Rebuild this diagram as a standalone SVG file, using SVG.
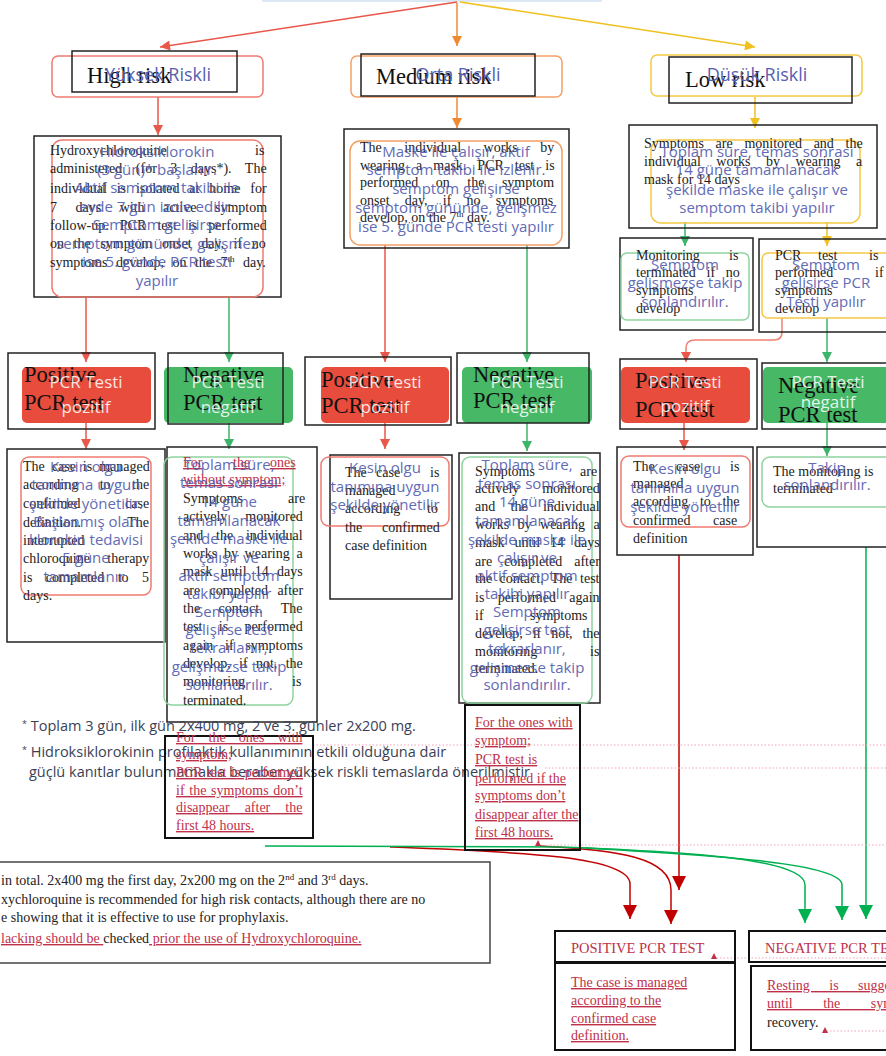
<svg xmlns="http://www.w3.org/2000/svg" width="886" height="1056" viewBox="0 0 886 1056">
<style>
.en{font-family:"Liberation Serif","Times New Roman",serif;font-size:14px;fill:#222}
.enL{font-family:"Liberation Serif","Times New Roman",serif;font-size:22.5px;fill:#111}
.tr{font-family:"Open Sans","Noto Sans",sans-serif;font-size:15px;fill:#5560b0;text-anchor:middle;opacity:.92}
.trH{font-family:"Open Sans","Noto Sans",sans-serif;font-size:18px;fill:#5560b0;text-anchor:middle}
.trw{font-family:"Open Sans","Noto Sans",sans-serif;font-size:17px;fill:#fff;text-anchor:middle;opacity:.85}
.note{font-family:"Open Sans","Noto Sans",sans-serif;font-size:14.5px;fill:#3a3f55}
.bx{fill:none;stroke:#222;stroke-width:1.5}
.bx2{fill:none;stroke:#111;stroke-width:2}
.rr{fill:none;stroke:#f07a70;stroke-width:1.5}
.ro{fill:none;stroke:#f2a066;stroke-width:1.5}
.ry{fill:none;stroke:#f5c842;stroke-width:1.5}
.rg{fill:none;stroke:#8fd3a0;stroke-width:1.5}
.fr{fill:#e74c3c}
.fg{fill:#46b866}
.red{font-family:"Liberation Serif","Times New Roman",serif;font-size:14px;fill:#c0304a;text-decoration:underline}
.redp{font-family:"Liberation Serif","Times New Roman",serif;font-size:14.5px;fill:#c0304a}
.c{fill:none;stroke-width:1.5}
.dot{fill:none;stroke:#f2a3b3;stroke-width:1;stroke-dasharray:1.5 2}
.sup{font-size:9px}
</style>
<defs>
<marker id="mr" viewBox="0 0 10 10" refX="10" refY="5" markerWidth="11" markerHeight="10" markerUnits="userSpaceOnUse" orient="auto"><path d="M0,0 L10,5 L0,10 z" fill="#e8574a"/></marker>
<marker id="mo" viewBox="0 0 10 10" refX="10" refY="5" markerWidth="11" markerHeight="10" markerUnits="userSpaceOnUse" orient="auto"><path d="M0,0 L10,5 L0,10 z" fill="#f08a30"/></marker>
<marker id="my" viewBox="0 0 10 10" refX="10" refY="5" markerWidth="11" markerHeight="10" markerUnits="userSpaceOnUse" orient="auto"><path d="M0,0 L10,5 L0,10 z" fill="#f0c020"/></marker>
<marker id="mg" viewBox="0 0 10 10" refX="10" refY="5" markerWidth="11" markerHeight="10" markerUnits="userSpaceOnUse" orient="auto"><path d="M0,0 L10,5 L0,10 z" fill="#3cb56a"/></marker>
<marker id="mdr" viewBox="0 0 10 10" refX="10" refY="5" markerWidth="14" markerHeight="14" markerUnits="userSpaceOnUse" orient="auto"><path d="M0,0 L10,5 L0,10 z" fill="#c00000"/></marker>
<marker id="mdg" viewBox="0 0 10 10" refX="10" refY="5" markerWidth="14" markerHeight="14" markerUnits="userSpaceOnUse" orient="auto"><path d="M0,0 L10,5 L0,10 z" fill="#00b050"/></marker>
</defs>
<rect width="886" height="1056" fill="#fff"/>
<rect x="262" y="-2" width="340" height="4" fill="#dde8f5"/>

<g id="connectors">
<path class="c" stroke="#e8574a" d="M457,2 L160,47" marker-end="url(#mr)"/>
<path class="c" stroke="#f08a30" d="M457,3 V46" marker-end="url(#mo)"/>
<path class="c" stroke="#f0c020" d="M460,2 L755,47" marker-end="url(#my)"/>
<path class="c" stroke="#e8574a" d="M158,97 V135" marker-end="url(#mr)"/>
<path class="c" stroke="#f08a30" d="M457,97 V128" marker-end="url(#mo)"/>
<path class="c" stroke="#f0c020" d="M755,97 V128" marker-end="url(#my)"/>
<path class="c" stroke="#e8574a" d="M86,297 V362" marker-end="url(#mr)"/>
<path class="c" stroke="#3cb56a" d="M229,297 V362" marker-end="url(#mg)"/>
<path class="c" stroke="#e8574a" d="M385,245 V362" marker-end="url(#mr)"/>
<path class="c" stroke="#3cb56a" d="M527,245 V362" marker-end="url(#mg)"/>
<path class="c" stroke="#3cb56a" d="M685,222 V246" marker-end="url(#mg)"/>
<path class="c" stroke="#f0c020" d="M827,222 V246" marker-end="url(#my)"/>
<path class="c" stroke="#f08070" d="M782,318 V332 Q782,340 774,340 H695 Q686,340 686,348 V362" marker-end="url(#mr)"/>
<path class="c" stroke="#3cb56a" d="M827,318 V362" marker-end="url(#mg)"/>
<path class="c" stroke="#e8574a" d="M86,423 V449" marker-end="url(#mr)"/>
<path class="c" stroke="#3cb56a" d="M229,423 V449" marker-end="url(#mg)"/>
<path class="c" stroke="#e8574a" d="M385,423 V449" marker-end="url(#mr)"/>
<path class="c" stroke="#3cb56a" d="M527,423 V451" marker-end="url(#mg)"/>
<path class="c" stroke="#e8574a" d="M684,423 V450" marker-end="url(#mr)"/>
<path class="c" stroke="#3cb56a" d="M827,423 V456" marker-end="url(#mg)"/>
<path class="c" stroke="#c00000" d="M679,555 V890" marker-end="url(#mdr)"/>
<path class="c" stroke="#00b050" d="M866,547 V919" marker-end="url(#mdg)"/>
<path class="c" stroke="#c00000" d="M390,847 C520,852 630,856 630,884 V919" marker-end="url(#mdr)"/>
<path class="c" stroke="#c00000" d="M540,846 C620,850 671,858 671,890 V924" marker-end="url(#mdr)"/>
<path class="c" stroke="#00b050" d="M265,846 L560,847 C700,852 805,860 805,885 V923" marker-end="url(#mdg)"/>
<path class="c" stroke="#00b050" d="M585,848 C700,855 842,862 842,885 V920" marker-end="url(#mdg)"/>
<path class="dot" d="M313,745 H886 M545,768 H886 M550,845 H886 M713,958 H886 M823,1031 H886"/>
</g>

<g id="high-risk">
<rect class="rr" x="52" y="56" width="211" height="41" rx="6"/>
<rect class="bx" x="72" y="51" width="165" height="41"/>
<text class="enL" x="87" y="83">High risk</text>
<text class="trH" x="158" y="81">Yüksek Riskli</text>
</g>
<g id="medium-risk">
<rect class="ro" x="351" y="56" width="211" height="41" rx="6"/>
<rect class="bx" x="361" y="54" width="174" height="42"/>
<text class="enL" x="376" y="84">Medium risk</text>
<text class="trH" x="458" y="81">Orta Riskli</text>
</g>
<g id="low-risk">
<rect class="ry" x="651" y="55" width="211" height="41" rx="6"/>
<rect class="bx" x="669" y="57" width="183" height="46"/>
<text class="enL" x="685" y="87">Low risk</text>
<text class="trH" x="757" y="81">Düşük Riskli</text>
</g>

<g id="high-body">
<rect class="bx" x="34" y="136" width="247" height="161"/>
<rect class="rr" x="52" y="140" width="211" height="157" rx="10"/>
<text class="en" x="50" y="155">Hydroxychloroquine<tspan x="255">is</tspan></text>
<text class="en" x="50" y="173" word-spacing="10">administered (for 3 days*). The</text>
<text class="en" x="50" y="193" word-spacing="6.4">individual is isolated at home for</text>
<text class="en" x="50" y="212" word-spacing="15">7 days with active symptom</text>
<text class="en" x="50" y="230" word-spacing="7.6">follow-up. PCR test is performed</text>
<text class="en" x="50" y="248" word-spacing="6.1">on the symptom onset day, if no</text>
<text class="en" x="50" y="267" word-spacing="5">symptoms develop, on the 7<tspan class="sup" dy="-5" word-spacing="0">th</tspan><tspan dy="5"> day.</tspan></text>
<text class="tr" x="157" y="157">Hidroksiklorokin</text>
<text class="tr" x="157" y="175">(3 gün)* başlanır.</text>
<text class="tr" x="157" y="193">Aktif semptom takibi ile</text>
<text class="tr" x="157" y="212">evde 7 gün izole edilir.</text>
<text class="tr" x="157" y="230">Semptom gelişirse</text>
<text class="tr" x="157" y="249">semptom gününde, gelişmez</text>
<text class="tr" x="157" y="267">ise 5. günde PCR testi</text>
<text class="tr" x="157" y="286">yapılır</text>
</g>

<g id="medium-body">
<rect class="bx" x="344" y="129" width="225" height="119"/>
<rect class="ro" x="350" y="141" width="212" height="104" rx="10"/>
<text class="en" x="360" y="152" word-spacing="19">The individual works by</text>
<text class="en" x="360" y="170" word-spacing="7.5">wearing a mask. PCR test is</text>
<text class="en" x="360" y="187" word-spacing="14">performed on the symptom</text>
<text class="en" x="360" y="205" word-spacing="11.7">onset day, if no symptoms</text>
<text class="en" x="360" y="222">develop, on the 7<tspan class="sup" dy="-5">th</tspan><tspan dy="5"> day.</tspan></text>
<text class="tr" x="456" y="157">Maske ile çalışır, aktif</text>
<text class="tr" x="456" y="175">semptom takibi ile izlenir.</text>
<text class="tr" x="456" y="194">semptom gelişirse</text>
<text class="tr" x="456" y="213">semptom gününde, gelişmez</text>
<text class="tr" x="456" y="232">ise 5. günde PCR testi yapılır</text>
</g>

<g id="low-body">
<rect class="bx" x="629" y="125" width="248" height="103"/>
<rect class="ry" x="651" y="140" width="209" height="83" rx="10"/>
<text class="en" x="644" y="148" word-spacing="8.2">Symptoms are monitored and the</text>
<text class="en" x="644" y="166" word-spacing="12">individual works by wearing a</text>
<text class="en" x="644" y="184">mask for 14 days</text>
<text class="tr" x="757" y="157" font-size="16">Toplam süre, temas sonrası</text>
<text class="tr" x="757" y="175" font-size="16">14 güne tamamlanacak</text>
<text class="tr" x="757" y="195" font-size="16">şekilde maske ile çalışır ve</text>
<text class="tr" x="757" y="213" font-size="16">semptom takibi yapılır</text>
</g>

<g id="low-monitor">
<rect class="bx" x="620" y="238" width="133" height="92"/>
<rect class="rg" x="621" y="253" width="128" height="67" rx="6"/>
<text class="en" x="636" y="260">Monitoring<tspan x="729">is</tspan></text>
<text class="en" x="636" y="277" word-spacing="7.2">terminated if no</text>
<text class="en" x="636" y="295">symptoms</text>
<text class="en" x="636" y="313">develop</text>
<text class="tr" x="685" y="270">Semptom</text>
<text class="tr" x="685" y="288">gelişmezse takip</text>
<text class="tr" x="685" y="307">sonlandırılır.</text>
</g>
<g id="low-pcr">
<rect class="bx" x="759" y="239" width="135" height="93"/>
<rect class="ry" x="762" y="253" width="135" height="65" rx="6"/>
<text class="en" x="775" y="260">PCR<tspan x="818">test</tspan><tspan x="869">is</tspan></text>
<text class="en" x="775" y="277">performed<tspan x="875">if</tspan></text>
<text class="en" x="775" y="295">symptoms</text>
<text class="en" x="775" y="313">develop</text>
<text class="tr" x="826" y="270">Semptom</text>
<text class="tr" x="826" y="288">gelişirse PCR</text>
<text class="tr" x="826" y="307">Testi yapılır</text>
</g>

<g id="high-pos">
<rect class="fr" x="22" y="367" width="129" height="56" rx="5"/>
<rect class="bx" x="8" y="353" width="147" height="76"/>
<text class="enL" x="24" y="382">Positive</text>
<text class="enL" x="24" y="410">PCR test</text>
<text class="trw" x="86" y="388">PCR Testi</text>
<text class="trw" x="86" y="413">pozitif</text>
</g>
<g id="high-neg">
<rect class="fg" x="164" y="367" width="129" height="56" rx="5"/>
<rect class="bx" x="168" y="353" width="115" height="71"/>
<text class="enL" x="183" y="382">Negative</text>
<text class="enL" x="183" y="410">PCR test</text>
<text class="trw" x="228" y="388">PCR Testi</text>
<text class="trw" x="228" y="413">negatif</text>
</g>
<g id="med-pos">
<rect class="fr" x="321" y="367" width="128" height="56" rx="5"/>
<rect class="bx" x="305" y="357" width="146" height="68"/>
<text class="enL" x="321" y="387">Positive</text>
<text class="enL" x="321" y="413">PCR test</text>
<text class="trw" x="385" y="388">PCR Testi</text>
<text class="trw" x="385" y="413">pozitif</text>
</g>
<g id="med-neg">
<rect class="fg" x="462" y="367" width="130" height="56" rx="5"/>
<rect class="bx" x="457" y="353" width="132" height="70"/>
<text class="enL" x="473" y="382">Negative</text>
<text class="enL" x="473" y="408">PCR test</text>
<text class="trw" x="527" y="388">PCR Testi</text>
<text class="trw" x="527" y="413">negatif</text>
</g>
<g id="low-pos">
<rect class="fr" x="621" y="367" width="129" height="56" rx="5"/>
<rect class="bx" x="620" y="359" width="137" height="70"/>
<text class="enL" x="635" y="388">Positive</text>
<text class="enL" x="635" y="417">PCR test</text>
<text class="trw" x="685" y="388">PCR Testi</text>
<text class="trw" x="685" y="412">pozitif</text>
</g>
<g id="low-neg">
<rect class="fg" x="763" y="367" width="135" height="56" rx="5"/>
<rect class="bx" x="762" y="363" width="135" height="66"/>
<text class="enL" x="778" y="393">Negative</text>
<text class="enL" x="778" y="422">PCR test</text>
<text class="trw" x="828" y="388">PCR Testi</text>
<text class="trw" x="828" y="408">negatif</text>
</g>

<g id="high-pos-body">
<rect class="bx" x="7" y="449" width="158" height="193"/>
<rect class="rr" x="21" y="457" width="130" height="138" rx="8"/>
<text class="en" x="23" y="471" word-spacing="3.5">The case is managed</text>
<text class="en" x="23" y="489" word-spacing="18">according to the</text>
<text class="en" x="23" y="508" word-spacing="41">confirmed case</text>
<text class="en" x="23" y="527" word-spacing="43">definition. The</text>
<text class="en" x="23" y="545">interrupted</text>
<text class="en" x="23" y="563" word-spacing="14">chloroquine therapy</text>
<text class="en" x="23" y="582" word-spacing="10">is completed to 5</text>
<text class="en" x="23" y="600">days.</text>
<text class="tr" x="86" y="472">Kesin olgu</text>
<text class="tr" x="86" y="490">tanımına uygun</text>
<text class="tr" x="86" y="509">şekilde yönetilir.</text>
<text class="tr" x="86" y="527">Başlanmış olan</text>
<text class="tr" x="86" y="545">klorokin tedavisi</text>
<text class="tr" x="86" y="563">5 güne</text>
<text class="tr" x="86" y="582">tamamlanır.</text>
</g>

<g id="high-neg-body">
<rect class="bx" x="167" y="447" width="150" height="275"/>
<rect class="rg" x="164" y="457" width="129" height="248" rx="8"/>
<text class="red" x="183" y="467">For<tspan x="233">the</tspan><tspan x="270">ones</tspan></text>
<text class="red" x="183" y="484">without symptom;</text>
<text class="en" x="183" y="503">Symptoms<tspan x="288">are</tspan></text>
<text class="en" x="183" y="521" word-spacing="14.5">actively monitored</text>
<text class="en" x="183" y="540" word-spacing="9.3">and the individual</text>
<text class="en" x="183" y="558" word-spacing="3.2">works by wearing a</text>
<text class="en" x="183" y="576" word-spacing="4.8">mask until 14 days</text>
<text class="en" x="183" y="595" word-spacing="6">are completed after</text>
<text class="en" x="183" y="613" word-spacing="15">the contact. The</text>
<text class="en" x="183" y="631" word-spacing="12.8">test is performed</text>
<text class="en" x="183" y="650" word-spacing="8.2">again if symptoms</text>
<text class="en" x="183" y="668" word-spacing="4.8">develop, if not, the</text>
<text class="en" x="183" y="686">monitoring<tspan x="292">is</tspan></text>
<text class="en" x="183" y="705">terminated.</text>
<text class="tr" x="229" y="470">Toplam süre,</text>
<text class="tr" x="229" y="488">temas sonrası</text>
<text class="tr" x="229" y="507">14 güne</text>
<text class="tr" x="229" y="526">tamamlanacak</text>
<text class="tr" x="229" y="544">şekilde maske ile</text>
<text class="tr" x="229" y="563">çalışır ve</text>
<text class="tr" x="229" y="581">aktif semptom</text>
<text class="tr" x="229" y="599">takibi yapılır</text>
<text class="tr" x="229" y="617">Semptom</text>
<text class="tr" x="229" y="635">gelişirse test</text>
<text class="tr" x="229" y="653">tekrarlanır,</text>
<text class="tr" x="229" y="672">gelişmezse takip</text>
<text class="tr" x="229" y="690">sonlandırılır.</text>
</g>

<g id="med-pos-body">
<rect class="bx" x="330" y="455" width="122" height="144"/>
<rect class="rr" x="321" y="457" width="128" height="69" rx="8"/>
<text class="en" x="345" y="477">The<tspan x="376">case</tspan><tspan x="430">is</tspan></text>
<text class="en" x="345" y="495">managed</text>
<text class="en" x="345" y="513">according<tspan x="427">to</tspan></text>
<text class="en" x="345" y="532" word-spacing="16.5">the confirmed</text>
<text class="en" x="345" y="550">case definition</text>
<text class="tr" x="385" y="473">Kesin olgu</text>
<text class="tr" x="385" y="492">tanımına uygun</text>
<text class="tr" x="385" y="510">şekilde yönetilir</text>
</g>

<g id="med-neg-body">
<rect class="bx" x="459" y="453" width="141" height="250"/>
<rect class="rg" x="462" y="457" width="130" height="246" rx="8"/>
<text class="en" x="475" y="476">Symptoms<tspan x="580">are</tspan></text>
<text class="en" x="475" y="493" word-spacing="19.4">actively monitored</text>
<text class="en" x="475" y="511" word-spacing="11.8">and the individual</text>
<text class="en" x="475" y="529" word-spacing="4.9">works by wearing a</text>
<text class="en" x="475" y="547" word-spacing="6.4">mask until 14 days</text>
<text class="en" x="475" y="566" word-spacing="8.4">are completed after</text>
<text class="en" x="475" y="583" word-spacing="4">the contact. The test</text>
<text class="en" x="475" y="602" word-spacing="9.8">is performed again</text>
<text class="en" x="475" y="620">if<tspan x="530">symptoms</tspan></text>
<text class="en" x="475" y="638" word-spacing="6.4">develop, if not, the</text>
<text class="en" x="475" y="656">monitoring<tspan x="590">is</tspan></text>
<text class="en" x="475" y="673">terminated.</text>
<text class="tr" x="527" y="470">Toplam süre,</text>
<text class="tr" x="527" y="489">temas sonrası</text>
<text class="tr" x="527" y="507">14 güne</text>
<text class="tr" x="527" y="526">tamamlanacak</text>
<text class="tr" x="527" y="545">şekilde maske ile</text>
<text class="tr" x="527" y="563">çalışır ve</text>
<text class="tr" x="527" y="581">aktif semptom</text>
<text class="tr" x="527" y="599">takibi yapılır</text>
<text class="tr" x="527" y="617">Semptom</text>
<text class="tr" x="527" y="635">gelişirse test</text>
<text class="tr" x="527" y="654">tekrarlanır,</text>
<text class="tr" x="527" y="673">gelişmezse takip</text>
<text class="tr" x="527" y="690">sonlandırılır.</text>
</g>

<g id="low-pos-body">
<rect class="bx" x="617" y="447" width="136" height="108"/>
<rect class="rr" x="621" y="456" width="129" height="71" rx="8"/>
<text class="en" x="633" y="471">The<tspan x="676">case</tspan><tspan x="730">is</tspan></text>
<text class="en" x="633" y="488">managed</text>
<text class="en" x="633" y="506" word-spacing="8.2">according to the</text>
<text class="en" x="633" y="525">confirmed<tspan x="713">case</tspan></text>
<text class="en" x="633" y="543">definition</text>
<text class="tr" x="685" y="474">Kesin olgu</text>
<text class="tr" x="685" y="493">tanımına uygun</text>
<text class="tr" x="685" y="512">şekilde yönetilir</text>
</g>

<g id="low-neg-body">
<rect class="bx" x="757" y="447" width="135" height="100"/>
<rect class="rg" x="762" y="457" width="135" height="50" rx="8"/>
<text class="en" x="773" y="476">The monitoring is</text>
<text class="en" x="773" y="493">terminated</text>
<text class="tr" x="827" y="473">Takip</text>
<text class="tr" x="827" y="490">sonlandırılır.</text>
</g>

<g id="footnotes-tr">
<text class="note" x="22" y="731"><tspan font-size="9" dy="-4">*</tspan><tspan dy="4"> Toplam 3 gün, ilk gün 2x400 mg, 2 ve 3. günler 2x200 mg.</tspan></text>
<text class="note" x="22" y="757"><tspan font-size="9" dy="-4">*</tspan><tspan dy="4"> Hidroksiklorokinin profilaktik kullanımının etkili olduğuna dair</tspan></text>
<text class="note" x="29" y="777">güçlü kanıtlar bulunmamakla beraber yüksek riskli temaslarda önerilmiştir</text>
</g>

<g id="high-symptom">
<rect class="bx2" x="165" y="736" width="148" height="102"/>
<text class="red" x="176" y="742" word-spacing="9.6">For the ones with</text>
<text class="red" x="176" y="759">symptom;</text>
<text class="red" x="176" y="777" word-spacing="1">PCR test is performed</text>
<text class="red" x="176" y="795" word-spacing="1.2">if the symptoms don’t</text>
<text class="red" x="176" y="812" word-spacing="11.5">disappear after the</text>
<text class="red" x="176" y="830">first 48 hours.</text>
</g>

<g id="med-symptom">
<rect class="bx2" x="465" y="705" width="115" height="145"/>
<text class="red" x="475" y="727">For the ones with</text>
<text class="red" x="475" y="745">symptom;</text>
<text class="red" x="475" y="764">PCR test is</text>
<text class="red" x="475" y="783">performed if the</text>
<text class="red" x="475" y="800">symptoms don’t</text>
<text class="red" x="475" y="819">disappear after the</text>
<text class="red" x="475" y="837">first 48 hours.</text>
<path d="M535,846 L538,840 L541,846 z" fill="#c0304a"/>
</g>

<g id="footnote-en">
<rect x="-5" y="862" width="495" height="101" fill="none" stroke="#444" stroke-width="1.5"/>
<text class="en" x="1" y="885">in total. 2x400 mg the first day, 2x200 mg on the 2<tspan class="sup" dy="-5">nd</tspan><tspan dy="5"> and 3</tspan><tspan class="sup" dy="-5">rd</tspan><tspan dy="5"> days.</tspan></text>
<text class="en" x="1" y="904">xychloroquine is recommended for high risk contacts, although there are no</text>
<text class="en" x="1" y="922">e showing that it is effective to use for prophylaxis.</text>
<text class="en" x="1" y="943"><tspan fill="#c0304a" text-decoration="underline">lacking should be </tspan>checked<tspan fill="#c0304a" text-decoration="underline"> prior the use of Hydroxychloroquine.</tspan></text>
</g>

<g id="positive-final">
<rect class="bx2" x="555" y="931" width="180" height="31"/>
<rect class="bx2" x="555" y="963" width="180" height="87"/>
<text class="redp" x="571" y="953">POSITIVE PCR TEST</text>
<path d="M711,959 L714,953 L717,959 z" fill="#c0304a"/>
<text class="red" x="571" y="987">The case is managed</text>
<text class="red" x="571" y="1005">according to the</text>
<text class="red" x="571" y="1023">confirmed case</text>
<text class="red" x="571" y="1040">definition.</text>
</g>

<g id="negative-final">
<rect class="bx2" x="749" y="931" width="150" height="31"/>
<rect class="bx2" x="751" y="966" width="150" height="84"/>
<text class="redp" x="765" y="953">NEGATIVE PCR TEST</text>
<text class="red" x="767" y="990" word-spacing="16">Resting is suggested</text>
<text class="red" x="767" y="1008" word-spacing="27">until the symptom</text>
<text class="en" x="767" y="1027">recovery.</text>
<path d="M822,1033 L825,1027 L828,1033 z" fill="#c0304a"/>
</g>
</svg>
